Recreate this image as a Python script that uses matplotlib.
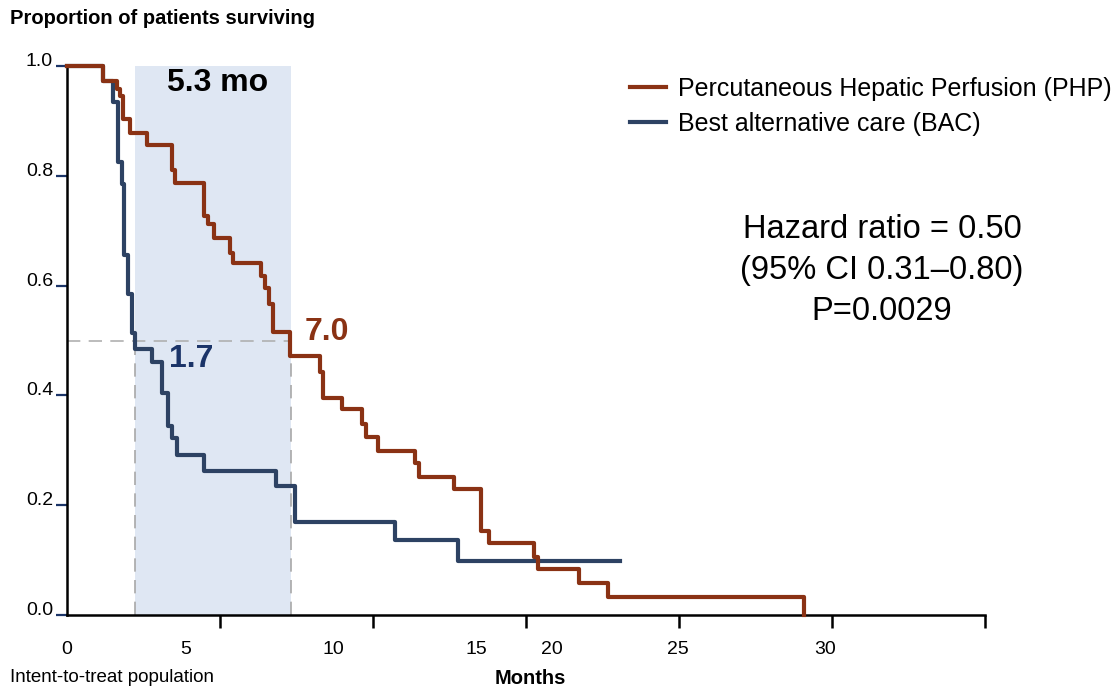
import numpy as np
import matplotlib
matplotlib.use('Agg')
from matplotlib import pyplot as plt
from matplotlib.lines import Line2D

plt.rcParams['font.family'] = ['Liberation Sans', 'DejaVu Sans']

# step curves (x in axis-tick units, 0..30 across the axis)
php_t = [0, 1.18, 1.64, 1.74, 1.84, 2.07, 2.62, 3.44, 3.54, 4.49, 4.62, 4.79, 5.34, 5.44,
         6.33, 6.46, 6.59, 6.72, 7.28, 8.26, 8.36, 8.98, 9.64, 9.77, 10.16, 11.38, 11.51,
         12.66, 13.54, 13.80, 15.25, 15.38, 16.72, 17.67, 24.10]
php_s = [1.0, 0.973, 0.958, 0.945, 0.904, 0.878, 0.856, 0.810, 0.787, 0.727, 0.713, 0.687,
         0.660, 0.642, 0.618, 0.595, 0.567, 0.516, 0.471, 0.442, 0.396, 0.375, 0.347, 0.324,
         0.298, 0.276, 0.251, 0.229, 0.153, 0.131, 0.105, 0.084, 0.058, 0.033, 0.0]

bac_t = [0, 1.18, 1.51, 1.67, 1.80, 1.87, 2.00, 2.13, 2.23, 2.79, 3.11, 3.31, 3.44, 3.61,
         4.49, 6.82, 7.44, 10.72, 12.79, 18.07]
bac_s = [1.0, 0.973, 0.935, 0.825, 0.785, 0.655, 0.585, 0.513, 0.485, 0.460, 0.405, 0.344,
         0.322, 0.291, 0.262, 0.235, 0.169, 0.136, 0.098, 0.098]

median_bac = 2.23
median_php = 7.31

# tick marks vs. where the (misaligned) labels sit on the slide
tick_marks = [0, 5, 10, 15, 20, 25, 30]
label_pos = [0, 3.87, 8.69, 13.38, 15.84, 19.97, 24.79]
label_txt = ['0', '5', '10', '15', '20', '25', '30']
ytick_vals = [0.0, 0.2, 0.4, 0.6, 0.8, 1.0]

brown = '#8a3214'
navy_line = '#2d4263'
navy_txt = '#1b3468'
shade = '#dfe7f3'

fig = plt.figure(figsize=(11.2, 6.91), dpi=100)
ax = fig.add_axes([67 / 1120, 76 / 691, 918 / 1120, 549 / 691])
ax.set_xlim(0, 30)
ax.set_ylim(0, 1.0)

# shaded median difference
ax.axvspan(median_bac, median_php, ymin=0, ymax=1.0, color=shade, lw=0, zorder=0)
ax.plot([0, median_php], [0.5, 0.5], ls=(0, (8, 5)), color='#b0b0b0', lw=1.2, zorder=1)
ax.plot([median_bac, median_bac], [0, 0.5], ls=(0, (8, 5)), color='#a8a8a8', lw=1.2, zorder=1)
ax.plot([median_php, median_php], [0, 0.5], ls=(0, (8, 5)), color='#a8a8a8', lw=1.2, zorder=1)

ax.step(bac_t, bac_s, where='post', color=navy_line, lw=3, zorder=3, clip_on=False)
ax.step(php_t, php_s, where='post', color=brown, lw=3, zorder=4, clip_on=False)

ax.text(4.92, 0.969, '5.3 mo', fontsize=23, fontweight='bold', ha='center', va='center')
ax.text(8.49, 0.516, '7.0', fontsize=23, fontweight='bold', color=brown, ha='center', va='center')
ax.text(4.07, 0.467, '1.7', fontsize=23, fontweight='bold', color=navy_txt, ha='center', va='center')

for s in ['top', 'right']:
    ax.spines[s].set_visible(False)
ax.spines['left'].set_linewidth(1.8)
ax.spines['bottom'].set_linewidth(1.8)

ax.set_yticks(ytick_vals)
ax.set_yticklabels(['%.1f' % v for v in ytick_vals], fontsize=14)
ax.tick_params(axis='y', length=8, width=1.6, color=navy_txt, pad=2)
for lab in ax.get_yticklabels():
    lab.set_verticalalignment('baseline')

ax.set_xticks(label_pos)
ax.set_xticklabels(label_txt, fontsize=14)
ax.set_xticks(tick_marks, minor=True)
ax.tick_params(axis='x', which='major', length=0, pad=19)
ax.tick_params(axis='x', which='minor', length=9, width=1.8, color='black')

handles = [Line2D([], [], color=brown, lw=3), Line2D([], [], color=navy_line, lw=3)]
ax.legend(handles, ['Percutaneous Hepatic Perfusion (PHP)', 'Best alternative care (BAC)'],
          loc='upper left', bbox_to_anchor=(630 / 1120, 1 - 77 / 691), bbox_transform=fig.transFigure,
          frameon=False, fontsize=18, handlelength=1.44, handletextpad=0.5, labelspacing=0.42,
          borderpad=0, borderaxespad=0)

fig.text(882 / 1120, 1 - 230 / 691, 'Hazard ratio = 0.50', fontsize=23.5, ha='center', va='center')
fig.text(882 / 1120, 1 - 271 / 691, '(95% CI 0.31\u20130.80)', fontsize=23.5, ha='center', va='center')
fig.text(882 / 1120, 1 - 311 / 691, 'P=0.0029', fontsize=23.5, ha='center', va='center')

fig.text(10 / 1120, 1 - 18 / 691, 'Proportion of patients surviving', fontsize=14.5, fontweight='bold',
         ha='left', va='center')
fig.text(10 / 1120, 1 - 678 / 691, 'Intent-to-treat population', fontsize=13.5, ha='left', va='center')
fig.text(530 / 1120, 1 - 678 / 691, 'Months', fontsize=14.5, fontweight='bold', ha='center', va='center')

fig.savefig('out.png', dpi=100)
